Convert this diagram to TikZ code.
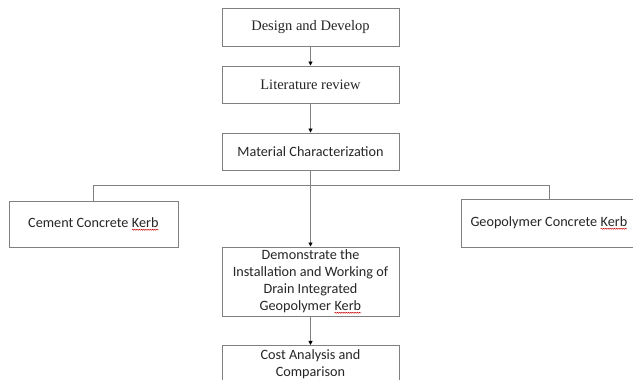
\documentclass[tikz,border=0pt]{standalone}
\usepackage{fontspec}
\setmainfont{Liberation Serif}
\newfontfamily\carlitofont{Carlito}
\usetikzlibrary{arrows.meta,decorations.pathmorphing}
\newcommand\kerbword{\tikz[baseline=(k.base)]{\node[inner sep=0pt,outer sep=0pt,minimum width=0pt,minimum height=0pt,draw=none,fill=none](k){Kerb};\draw[red!80!black,line width=0.5pt,decorate,decoration={snake,amplitude=0.5pt,segment length=2.2pt}]([yshift=-2.4pt]k.base west)--([yshift=-2.4pt]k.base east);}}
\begin{document}
\begin{tikzpicture}[x=1pt,y=1pt,
  box/.style={draw=black!50,line width=0.9pt,fill=white,inner sep=0pt,align=center,text=black!85},
  ser/.style={font=\fontsize{14.5}{17}\selectfont},
  cb/.style={font=\carlitofont\fontsize{14.2}{17}\selectfont},
  conn/.style={draw=black!50,line width=0.9pt},
  arr/.style={conn,-{Triangle[length=4pt,width=4pt,fill=black,color=black]}}]
\useasboundingbox (0,0) rectangle (633,380);
\clip (0,0) rectangle (633,380);
\node[box,ser,minimum width=177,minimum height=38] (design) at (310.5,353) {Design and Develop};
\node[box,ser,minimum width=177,minimum height=37] (lit) at (310.5,295.5) {Literature review};
\node[box,cb,minimum width=177,minimum height=37] (mat) at (310.5,228.5) {Material Characterization};
\node[box,cb,minimum width=169,minimum height=46] (cement) at (93.5,156) {Cement Concrete \kerbword};
\node[box,cb,minimum width=176,minimum height=48] (geo) at (549,157) {Geopolymer Concrete \kerbword};
\node[box,cb,minimum width=177,minimum height=69] (demo) at (310.5,98.5) {Demonstrate the\\Installation and Working of\\Drain Integrated\\Geopolymer \kerbword};
\node[box,minimum width=177,minimum height=60,anchor=north] (cost) at (310.5,35) {};
\node[cb,align=center,text=black!85,inner sep=0pt] (costtxt) at (310.5,15.5) {Cost Analysis and\\Comparison};
\coordinate (j) at (310.5,194.3);
\draw[arr] (design.south) -- (lit.north);
\draw[arr] (lit.south) -- (mat.north);
\draw[arr] (mat.south) -- (demo.north);
\draw[conn] (cement.north) |- (j) -| (geo.north);
\draw[arr] (demo.south) -- (cost.north);
\end{tikzpicture}
\end{document}
